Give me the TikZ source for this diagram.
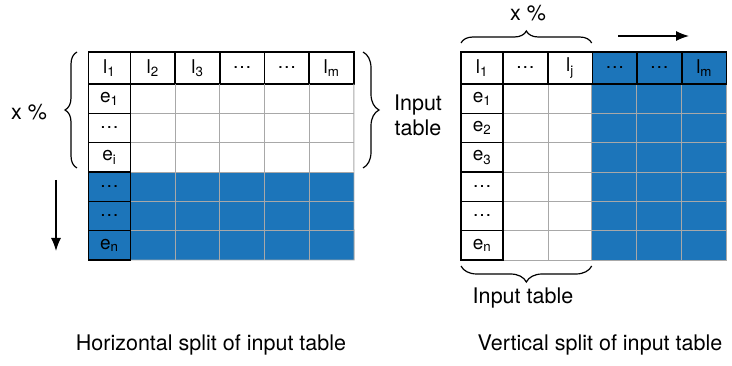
\documentclass[tikz,border=0pt]{standalone}
\usepackage{fontspec}
\setmainfont{TeX Gyre Heros}
\usetikzlibrary{decorations.pathreplacing,arrows.meta}
\definecolor{splitblue}{RGB}{28,117,186}
\definecolor{gridgray}{RGB}{168,168,168}
\tikzset{
  keycell/.style={draw=black, line width=1.6pt, minimum width=42pt, minimum height=29.33pt,
    inner sep=0pt, outer sep=0pt, font=\fontsize{19}{22}\selectfont},
  headcell/.style={keycell, minimum width=44.7pt, minimum height=32pt},
  bluecell/.style={fill=splitblue},
  gridline/.style={draw=gridgray, line width=0.9pt},
  label/.style={font=\fontsize{21.5}{25}\selectfont, inner sep=0pt},
  bracket/.style={decorate, decoration={brace, amplitude=#1}, line width=1.2pt},
  splitarrow/.style={line width=1.3pt, -{Latex[length=13pt,width=10pt]}}
}
\begin{document}
\begin{tikzpicture}[x=1pt, y=-1pt]
	\useasboundingbox (0, 0) rectangle (732, 366);
	%Corners of the two tables
	\coordinate (lbr) at (354.1, 260);
	\coordinate (rbr) at (726.5, 260);
	%Left table: blue part below the split
	\fill [splitblue] (130.3, 172) rectangle (lbr);
	%Right table: blue part right of the split
	\fill [splitblue] (591.7, 84) rectangle (rbr);

	%Left table header
	\node [headcell, minimum width=42pt] (lh1) at (109.3, 68) {l\textsubscript{1}};
	\node [headcell] (lh2) at (152.65, 68) {l\textsubscript{2}};
	\node [headcell] (lh3) at (197.35, 68) {l\textsubscript{3}};
	\node [headcell] (lh4) at (242.05, 68) {\dots};
	\node [headcell] (lh5) at (286.75, 68) {\dots};
	\node [headcell] (lh6) at (331.45, 68) {l\textsubscript{m}};
	%Left table grid
	\draw [gridline] (lh2.south west) -- (lh2.south west |- lbr);
	\draw [gridline] (lh3.south west) -- (lh3.south west |- lbr);
	\draw [gridline] (lh4.south west) -- (lh4.south west |- lbr);
	\draw [gridline] (lh5.south west) -- (lh5.south west |- lbr);
	\draw [gridline] (lh6.south west) -- (lh6.south west |- lbr);
	\draw [gridline] (lh6.south east) -- (lbr) -- (130.3, 260);
	\draw [gridline] (130.3, 113.33) -- (354.1, 113.33);
	\draw [gridline] (130.3, 142.67) -- (354.1, 142.67);
	\draw [gridline] (130.3, 172) -- (354.1, 172);
	\draw [gridline] (130.3, 201.33) -- (354.1, 201.33);
	\draw [gridline] (130.3, 230.67) -- (354.1, 230.67);
	%Left table rows
	\node [keycell] (lr1) at (109.3, 98.67) {e\textsubscript{1}};
	\node [keycell] (lr2) at (109.3, 128) {\dots};
	\node [keycell] (lr3) at (109.3, 157.33) {e\textsubscript{i}};
	\node [keycell, bluecell] (lr4) at (109.3, 186.67) {\dots};
	\node [keycell, bluecell] (lr5) at (109.3, 216) {\dots};
	\node [keycell, bluecell] (lr6) at (109.3, 245.33) {e\textsubscript{n}};

	%Braces and labels of the left table
	\draw [bracket=12pt] (77, 168) -- (77, 52);
	\node [label] (lpct) at (29, 112) {x \%};
	\draw [bracket=16pt] (363, 52) -- (363, 168);
	\node [label, align=center] (lin) at (418, 115) {Input\\table};
	%Arrow down
	\coordinate (down1) at (56, 180);
	\coordinate (down2) at (56, 251);
	\draw [splitarrow] (down1) -- (down2);

	%Right table grid
	\draw [gridline] (548.35, 84) -- (548.35, 260);
	\draw [gridline] (591.7, 84) -- (591.7, 260);
	\draw [gridline] (636.7, 84) -- (636.7, 260);
	\draw [gridline] (681.8, 84) -- (681.8, 260);
	\draw [gridline] (rbr) -- (726.5, 84);
	\draw [gridline] (503, 260) -- (rbr);
	\draw [gridline] (503, 113.33) -- (726.5, 113.33);
	\draw [gridline] (503, 142.67) -- (726.5, 142.67);
	\draw [gridline] (503, 172) -- (726.5, 172);
	\draw [gridline] (503, 201.33) -- (726.5, 201.33);
	\draw [gridline] (503, 230.67) -- (726.5, 230.67);
	%Right table header
	\node [headcell, minimum width=42pt] (rh1) at (482, 68) {l\textsubscript{1}};
	\node [headcell] (rh2) at (525.35, 68) {\dots};
	\node [headcell] (rh3) at (570.05, 68) {l\textsubscript{j}};
	\node [headcell, bluecell] (rh4) at (614.75, 68) {\dots};
	\node [headcell, bluecell] (rh5) at (659.45, 68) {\dots};
	\node [headcell, bluecell] (rh6) at (704.15, 68) {l\textsubscript{m}};
	%Right table rows
	\node [keycell] (rr1) at (482, 98.67) {e\textsubscript{1}};
	\node [keycell] (rr2) at (482, 128) {e\textsubscript{2}};
	\node [keycell] (rr3) at (482, 157.33) {e\textsubscript{3}};
	\node [keycell] (rr4) at (482, 186.67) {\dots};
	\node [keycell] (rr5) at (482, 216) {\dots};
	\node [keycell] (rr6) at (482, 245.33) {e\textsubscript{n}};

	%Braces and labels of the right table
	\draw [bracket=12pt] (461, 43) -- (591.7, 43);
	\node [label] (rpct) at (528, 13) {x \%};
	\draw [bracket=16pt] (591.7, 266) -- (461, 266);
	\node [label] (rin) at (523, 298) {Input table};
	%Arrow right
	\coordinate (right1) at (618, 36);
	\coordinate (right2) at (689, 36);
	\draw [splitarrow] (right1) -- (right2);

	%Captions
	\node [label] (lcap) at (211, 345) {Horizontal split of input table};
	\node [label] (rcap) at (600, 345) {Vertical split of input table};
\end{tikzpicture}
\end{document}
